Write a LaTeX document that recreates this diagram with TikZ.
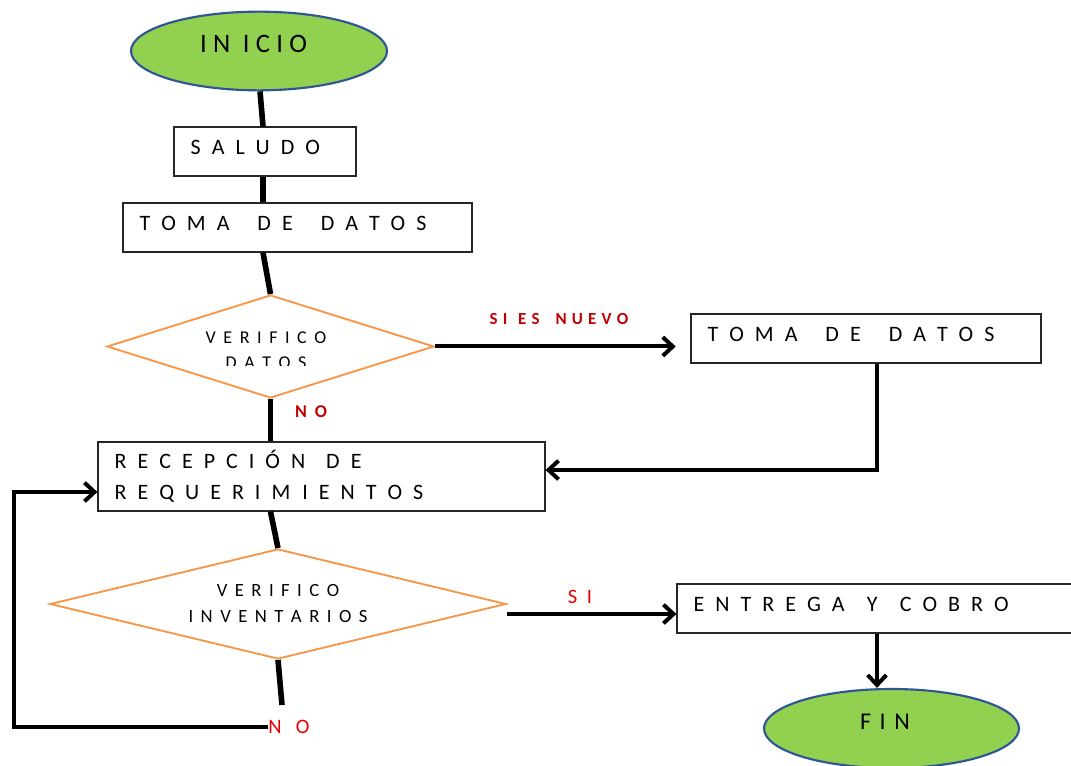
\documentclass[tikz,border=0pt]{standalone}
\usepackage{fontspec}
\setmainfont{Carlito}
\usetikzlibrary{shapes.geometric,arrows.meta}
\definecolor{termgreen}{HTML}{92D050}
\definecolor{termblue}{HTML}{2F5597}
\definecolor{decorange}{HTML}{F79646}
\definecolor{darkred}{HTML}{C00000}
\definecolor{brightred}{HTML}{E80000}
\newcommand\sk[1]{\spaceskip=#1\relax\xspaceskip=#1\relax}
\newcommand\boxtxt{\fontsize{16.5}{23.25}\selectfont}
\newcommand\bx{\sk{8.25pt}}
\newcommand\decatxt{\fontsize{13.5}{19}\selectfont\sk{5.67pt}}
\newcommand\decbtxt{\fontsize{14}{19.5}\selectfont\sk{5.6pt}}
\begin{document}
\begin{tikzpicture}[x=0.75pt,y=-0.75pt,
  term/.style={ellipse, draw=termblue, line width=1.6pt, fill=termgreen, inner sep=0pt,
    minimum width=192pt, minimum height=59pt, text depth=10pt},
  procbox/.style={rectangle, draw=black!85, line width=0.9pt, inner xsep=12.5pt, inner ysep=0pt,
    align=left, font=\boxtxt, minimum height=36.75pt},
  oneline/.style={text depth=6pt},
  decision/.style={diamond, draw=decorange, line width=1.4pt, inner sep=0pt, shape aspect=4,
    align=center},
  conn/.style={line width=4.2pt},
  arr/.style={line width=3pt, -{Straight Barb[length=7.5pt,width=14pt]}},
  labdark/.style={text=darkred, inner sep=0pt},
  labbright/.style={text=brightred, inner sep=0pt}
]
\useasboundingbox (0,0) rectangle (1071,766);

% terminals
\node[term, font=\fontsize{20}{24}\selectfont\sk{4.7pt}] (inicio) at (259,51) {I N\hspace{9.4pt}I C I O\hspace{8pt}\null};
\node[term, minimum width=191.25pt, minimum height=59.25pt,
      font=\fontsize{18}{22}\selectfont\sk{6.5pt}] (fin) at (891.5,728.5) {F I N\hspace{9.75pt}\null};

% process boxes
\node[procbox, oneline, text width=111.5pt] (saludo) at (265,151.5) {\bx S A L U D O};
\node[procbox, oneline, text width=236.75pt] (toma1) at (297.5,227.5) {\bx T O M A\hspace{21pt}D E\hspace{21pt}D A T O S};
\node[procbox, oneline, text width=237.5pt] (toma2) at (866,338.5) {\bx T O M A\hspace{21pt}D E\hspace{21pt}D A T O S};
\node[procbox, text width=310.25pt, minimum height=51.75pt] (recep) at (321.5,476.5) {\bx R E C E P C I Ó N\hspace{15.75pt}D E\\R E Q U E R I M\hspace{9pt}I E N T O S};
\node[procbox, oneline, text width=281pt] (ent) at (881,608.5) {\bx E N T R E G A\hspace{16.7pt}Y\hspace{16.7pt}C O B R O};

% decisions
\node[decision, minimum width=245.25pt, minimum height=77.25pt] (dec1) at (270.5,346.5) {};
\begin{scope}
  \clip (120,310) rectangle (420,365.5);
  \node[align=center, font=\decatxt, inner sep=0pt] (dec1t) at (266,350.5) {V E R I F I C O\\D A T O S};
\end{scope}
\node[decision, font=\decbtxt, minimum width=342pt, minimum height=82.5pt] (dec2) at (278,604) {V E R I F I C O\\I N V E N T A R I O S};

% labels
\node[labdark, font=\bfseries\fontsize{12.7}{15}\selectfont\sk{3.9pt}] (sinuevo) at (559,319) {S I\hspace{8pt}E S\hspace{12pt}N U E V O};
\node[labdark, font=\bfseries\fontsize{13.5}{16}\selectfont\sk{5.9pt}] (no1) at (311,412) {N O};
\node[labbright, font=\fontsize{15.4}{18}\selectfont\sk{7.1pt}] (si) at (580,597) {S I};
\node[labbright, anchor=west, font=\fontsize{15.4}{18}\selectfont\sk{10.8pt}] (no2) at (268,727) {N O};

% helper coordinates
\coordinate (a1) at ([xshift=-1.5pt]saludo.south);
\coordinate (noend) at (282,705);
\coordinate (lc) at (14,727);
\coordinate (lr) at (14,492);
\coordinate (c2) at (877,470);
\coordinate (s1) at ([yshift=-7.5pt]dec2.east);
\coordinate (c3) at (877,633);

% main chain
\draw[conn] ([xshift=0.75pt]inicio.south) -- ([xshift=-1.5pt]saludo.north);
\draw[conn] (a1) -- (a1 |- toma1.north);
\draw[conn] (a1 |- toma1.south) -- (dec1.north);
\draw[conn] (dec1.south) -- (dec1.south |- recep.north);
\draw[conn] (dec1.south |- recep.south) -- (dec2.north);
\draw[conn] (dec2.south) -- (noend);

% arrows
\draw[arr, shorten >=11pt] (dec1.east) -- (dec1.east -| toma2.west);
\draw[arr] (toma2.south -| c2) -- (c2) -- (c2 -| recep.east);
\draw[arr] (no2.west) -- (lc) -- (lr) -- (lr -| recep.west);
\draw[arr] (s1) -- (s1 -| ent.west);
\draw[arr] (c3 |- ent.south) -- (c3 |- fin.north);
\end{tikzpicture}
\end{document}
